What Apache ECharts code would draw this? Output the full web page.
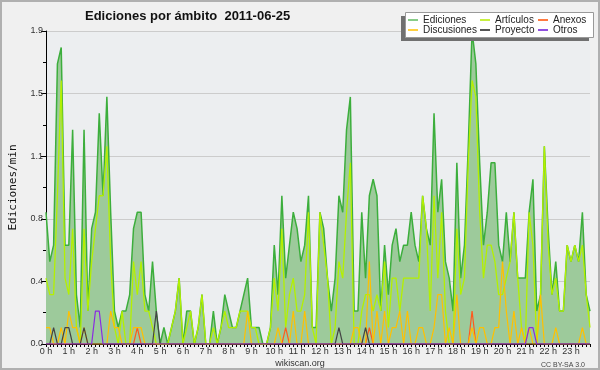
<!DOCTYPE html>
<html>
<head>
<meta charset="utf-8">
<script src="https://cdn.jsdelivr.net/npm/echarts@6/dist/echarts.min.js"></script>
<style>html,body{margin:0;padding:0;background:#f0f0f0;}#c{width:600px;height:370px;}</style>
</head>
<body>
<div id="c"></div>
<script>
// hour tick labels (one every 6 ten-minute slots)
const hourLabels = ['0 h','1 h','2 h','3 h','4 h','5 h','6 h','7 h','8 h','9 h','10 h','11 h','12 h','13 h','14 h','15 h','16 h','17 h','18 h','19 h','20 h','21 h','22 h','23 h'];
const yTicks = [0, 0.38, 0.76, 1.14, 1.52, 1.9];

// edits per minute, 10-minute buckets (144)
const ediciones = [
0.8,0.5,0.6,1.7,1.8,0.6, 0.6,1.3,0.3,0.1,1.3,0.2, 0.7,0.8,1.4,0.9,1.5,0.8, 0.2,0.1,0.2,0.2,0.3,0.7,
0.8,0.8,0.3,0.2,0.5,0.2, 0.0,0.1,0.0,0.1,0.2,0.4, 0.0,0.2,0.2,0.0,0.1,0.3, 0.0,0.0,0.2,0.0,0.1,0.3,
0.2,0.1,0.1,0.2,0.3,0.4, 0.1,0.1,0.1,0.0,0.0,0.1, 0.6,0.3,0.9,0.4,0.6,0.8, 0.7,0.5,0.6,0.9,0.1,0.1,
0.8,0.7,0.4,0.2,0.4,0.9, 0.8,1.3,1.5,0.2,0.2,0.8, 0.4,0.9,1.0,0.9,0.2,0.6, 0.3,0.6,0.7,0.5,0.6,0.6,
0.8,0.6,0.5,0.9,0.7,0.6, 1.4,0.8,1.0,0.5,0.4,0.2, 1.1,0.4,0.6,1.2,1.9,1.7, 1.1,0.6,0.8,1.1,1.1,0.6,
0.5,0.8,0.5,0.8,0.4,0.4, 0.4,0.8,1.0,0.2,0.3,1.2, 0.7,0.3,0.5,0.2,0.2,0.6, 0.5,0.6,0.5,0.8,0.3,0.2
];
const articulos = [
0.4,0.3,0.3,0.9,1.6,0.4, 0.3,0.7,0.1,0.0,0.7,0.2, 0.5,0.7,0.9,0.9,1.2,0.5, 0.1,0.0,0.2,0.0,0.0,0.5,
0.3,0.5,0.2,0.2,0.1,0.0, 0.0,0.0,0.0,0.1,0.2,0.4, 0.0,0.1,0.2,0.0,0.1,0.3, 0.0,0.0,0.1,0.0,0.1,0.2,
0.1,0.1,0.1,0.2,0.2,0.2, 0.1,0.1,0.0,0.0,0.0,0.1, 0.4,0.2,0.7,0.1,0.3,0.4, 0.2,0.2,0.3,0.8,0.1,0.0,
0.8,0.6,0.4,0.0,0.1,0.5, 0.4,0.8,1.1,0.0,0.0,0.2, 0.3,0.3,0.2,0.3,0.2,0.5, 0.1,0.4,0.4,0.2,0.4,0.4,
0.4,0.4,0.4,0.9,0.7,0.2, 0.9,0.4,0.8,0.2,0.0,0.0, 0.7,0.3,0.4,1.1,1.6,1.5, 0.8,0.4,0.6,0.6,0.5,0.3,
0.3,0.4,0.5,0.8,0.4,0.1, 0.0,0.8,0.6,0.0,0.3,1.2, 0.6,0.3,0.4,0.2,0.2,0.6, 0.5,0.6,0.5,0.6,0.3,0.1
];
const anexos = [
0,0,0,0,0,0, 0,0,0,0,0,0, 0,0,0,0,0,0, 0,0,0,0,0,0,
0.1,0,0,0,0,0, 0,0,0,0,0,0, 0,0,0,0,0,0, 0,0,0,0,0,0,
0,0,0,0,0,0, 0,0,0,0,0,0, 0,0,0,0.1,0,0, 0,0,0,0,0,0,
0,0,0,0,0,0, 0,0,0,0,0,0, 0,0.1,0,0,0,0, 0,0,0,0,0,0,
0,0,0,0,0,0, 0,0,0,0,0,0, 0,0,0,0,0.2,0, 0,0,0,0,0,0,
0,0,0,0,0,0, 0,0,0,0,0,0, 0,0,0,0,0,0, 0,0,0,0,0,0
];
const discusiones = [
0.1,0.1,0,0,0.1,0, 0.2,0.1,0.1,0,0.1,0, 0,0,0,0,0,0.2, 0.1,0.1,0,0,0,0.1,
0.1,0.1,0,0,0,0, 0,0,0,0,0,0, 0,0,0,0,0,0, 0,0,0,0,0,0,
0,0,0,0,0,0.2, 0,0,0,0,0,0, 0,0.1,0,0,0,0.2, 0,0,0.2,0,0,0,
0,0,0,0,0,0, 0,0,0,0.1,0.1,0, 0,0.5,0,0.2,0,0.2, 0,0.1,0.1,0.2,0,0.2,
0,0,0.1,0.1,0,0, 0.1,0.3,0.3,0,0.1,0, 0.3,0,0,0,0.1,0, 0.1,0.1,0,0,0.1,0.1,
0.5,0.2,0,0.2,0,0.1, 0,0.1,0,0,0.3,0, 0,0,0.1,0,0,0, 0,0,0,0.1,0,0
];
const proyecto = [
0,0,0.1,0,0,0.1, 0.1,0,0,0,0.1,0, 0,0,0,0,0,0, 0,0,0,0,0,0,
0,0,0,0,0,0.2, 0,0,0,0,0,0, 0,0,0,0,0,0, 0,0,0,0,0,0,
0,0,0,0,0,0, 0,0,0,0,0,0, 0,0,0,0,0,0, 0,0,0,0,0,0,
0,0,0,0,0,0.1, 0,0,0,0,0,0, 0.1,0,0,0,0,0, 0,0,0,0,0,0,
0,0,0,0,0,0, 0,0,0,0,0,0, 0,0,0,0,0,0, 0,0,0,0,0,0,
0,0,0,0,0,0, 0,0,0,0,0,0, 0,0,0,0,0,0, 0,0,0,0,0,0
];
const otros = [
0,0,0,0,0,0, 0,0,0,0,0,0, 0,0.2,0.2,0,0,0, 0,0,0,0,0,0,
0,0,0,0,0,0, 0,0,0,0,0,0, 0,0,0,0,0,0, 0,0,0,0,0,0,
0,0,0,0,0,0, 0,0,0,0,0,0, 0,0,0,0,0,0, 0,0,0,0,0,0,
0,0,0,0,0,0, 0,0,0,0,0,0, 0,0,0,0,0,0, 0,0,0,0,0,0,
0,0,0,0,0,0, 0,0,0,0,0,0, 0,0,0,0,0,0, 0,0,0,0,0,0,
0,0,0,0,0,0, 0,0.1,0.1,0,0,0, 0,0,0,0,0,0, 0,0,0,0,0,0
];

const cats = ediciones.map((_, i) => (i % 6 === 0 ? hourLabels[i / 6] : ''));
const yMax = yTicks[yTicks.length - 1];
const yStep = yTicks[1];

const chart = echarts.init(document.getElementById('c'), null, {renderer: 'canvas'});
const font = 'Liberation Sans';
function line(name, data, color, width, extra) {
  return Object.assign({
    name: name, type: 'line', data: data, symbol: 'none', color: color,
    lineStyle: {color: color, width: width}, emphasis: {disabled: true}, silent: true
  }, extra || {});
}
const legendCommon = {orient: 'vertical', itemWidth: 10, itemHeight: 2, icon: 'rect', itemGap: 0,
  textStyle: {fontFamily: font, fontSize: 10, color: '#222', lineHeight: 10, padding: [0, 0, 0, 0]},
  selectedMode: false, padding: 0, z: 6};
chart.setOption({
  animation: false,
  backgroundColor: '#f0f0f0',
  title: [
    {text: 'Ediciones por ámbito  2011-06-25', left: 80, top: 5,
      textStyle: {fontFamily: font, fontSize: 13, fontWeight: 'bold', color: '#111'}},
    {text: 'wikiscan.org', left: 'center', top: 354,
      textStyle: {fontFamily: font, fontSize: 9, fontWeight: 'normal', color: '#333'}},
    {text: 'CC BY-SA 3.0', right: 10, top: 357,
      textStyle: {fontFamily: font, fontSize: 7, fontWeight: 'normal', color: '#444'}}
  ],
  legend: [
    Object.assign({left: 408, top: 15, data: [{name: 'Ediciones', itemStyle: {color: '#88cc88'}}, {name: 'Discusiones', itemStyle: {color: '#ffd040'}}]}, legendCommon),
    Object.assign({left: 480, top: 15, data: [{name: 'Artículos', itemStyle: {color: '#c8f040'}}, {name: 'Proyecto', itemStyle: {color: '#555'}}]}, legendCommon),
    Object.assign({left: 538, top: 15, data: [{name: 'Anexos', itemStyle: {color: '#ff7a40'}}, {name: 'Otros', itemStyle: {color: '#9050e0'}}]}, legendCommon)
  ],
  graphic: [
    {type: 'rect', z: 100, zlevel: 0, silent: true, shape: {x: 1, y: 1, width: 598, height: 368}, style: {fill: 'none', stroke: '#b0b0b0', lineWidth: 2}},
    {type: 'rect', z: 3, silent: true, shape: {x: 401, y: 16, width: 188, height: 25}, style: {fill: '#707070'}},
    {type: 'rect', z: 3, silent: true, shape: {x: 405.5, y: 12.5, width: 188, height: 25}, style: {fill: '#ffffff', stroke: '#999', lineWidth: 1}}
  ],
  grid: {left: 46, right: 10, top: 31, bottom: 26, show: true, backgroundColor: '#eceef0', borderWidth: 0},
  xAxis: {
    type: 'category', data: cats, boundaryGap: false,
    axisLine: {lineStyle: {color: '#000', width: 1}},
    axisTick: {show: true, interval: 0, length: 3, lineStyle: {color: '#000'}},
    axisLabel: {interval: 5, fontFamily: font, fontSize: 9, color: '#333', margin: 3},
    splitLine: {show: false}
  },
  yAxis: {
    type: 'value', min: 0, max: yMax, interval: yStep,
    name: 'Ediciones/min', nameLocation: 'middle', nameGap: 27,
    nameTextStyle: {fontFamily: 'DejaVu Sans Mono', fontSize: 11, color: '#111'},
    axisLine: {show: true, lineStyle: {color: '#000', width: 1}},
    axisTick: {show: true, length: 5, lineStyle: {color: '#000'}},
    minorTick: {show: true, splitNumber: 2, length: 3, lineStyle: {color: '#000'}},
    axisLabel: {fontFamily: font, fontSize: 9, color: '#333', margin: 3,
      formatter: v => (Math.round(v * 10) / 10).toFixed(1)},
    splitLine: {show: true, lineStyle: {color: '#cccccc', width: 1}}
  },
  series: [
    line('Ediciones', ediciones, '#3cae3c', 1.5, {areaStyle: {color: '#9dca9b', opacity: 1}, z: 2}),
    line('Artículos', articulos, '#b4f000', 1.3, {z: 3}),
    line('Anexos', anexos, '#ff5a1e', 1.2, {z: 3}),
    line('Discusiones', discusiones, '#ffc000', 1.2, {z: 3}),
    line('Proyecto', proyecto, '#444444', 1.2, {z: 3}),
    line('Otros', otros, '#8a2be2', 1.2, {z: 3})
  ]
});
</script>
</body>
</html>
